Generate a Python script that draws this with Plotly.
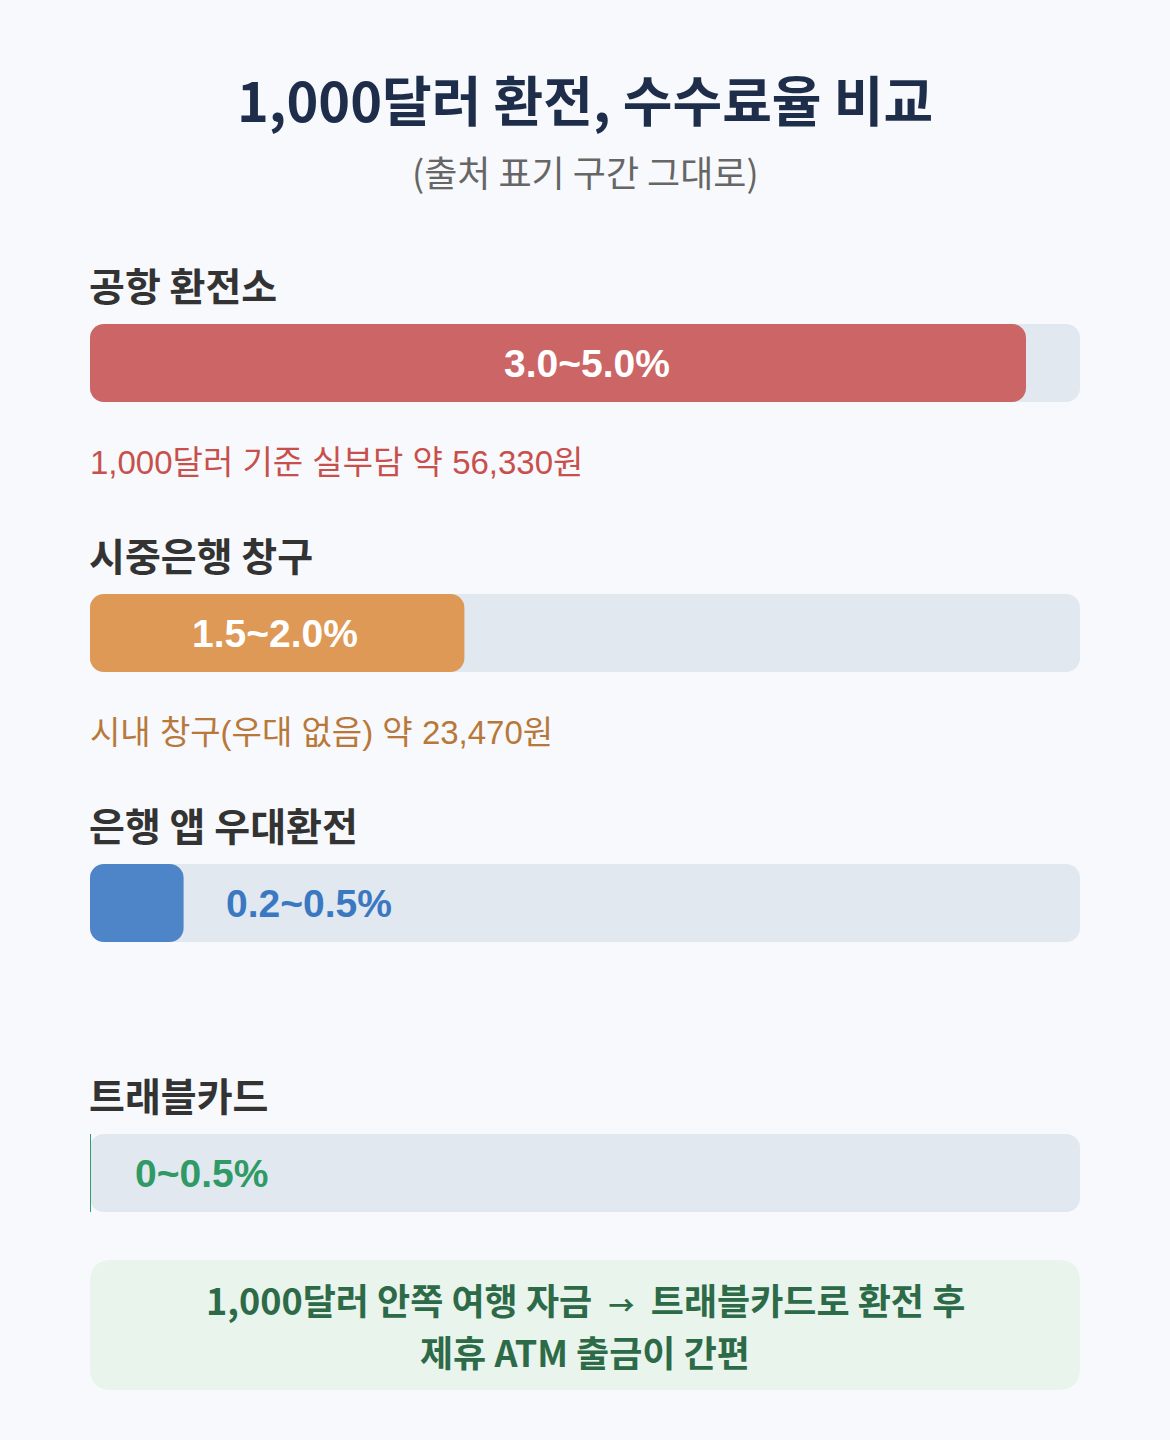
import plotly.graph_objects as go

# ---------------- data ----------------
categories = ["공항 환전소", "시중은행 창구", "은행 앱 우대환전", "트래블카드"]
fee_min = [3.0, 1.5, 0.2, 0.0]
fee_max = [5.0, 2.0, 0.5, 0.5]
range_labels = ["3.0~5.0%", "1.5~2.0%", "0.2~0.5%", "0~0.5%"]
bar_values = [5.0, 2.0, 0.5, 0.0]
notes = ["1,000달러 기준 실부담 약 56,330원", "시내 창구(우대 없음) 약 23,470원", "", ""]
title = "1,000달러 환전, 수수료율 비교"
subtitle = "(출처 표기 구간 그대로)"
footer_lines = ["1,000달러 안쪽 여행 자금 &nbsp;<span style='font-size:26px'>→</span>&nbsp; 트래블카드로 환전 후", "제휴 ATM 출금이 간편"]

# ---------------- style ----------------
W, H = 1170, 1440
L, R = 90, 1080
BG = "#f7f9fc"
TRACK = "#e2e8f0"
bar_colors = ["#cc6666", "#dd9955", "#4d85c8", "#2e9e6a"]
label_colors = ["#ffffff", "#ffffff", "#3a78c2", "#2f9a66"]
note_colors = ["#c8504c", "#b8783a", "#000000", "#000000"]
XMAX = 5.0 * (R - L) / 936.0
KR = "Noto Sans CJK KR"
LAT = "Liberation Sans, Arial, Noto Sans CJK KR"

label_y0 = 284
bar_y0 = 363
note_y0 = 462
step = 270
inside_shift = [29, -2, 0, 0]
outside_shift = [0, 0, 40, 43]


def px(x):
    return (x - L) / (R - L)


fig = go.Figure()
bar_ys = [bar_y0 + step * i for i in range(len(categories))]

# tracks
fig.add_trace(go.Bar(
    x=[XMAX] * len(categories), y=bar_ys, base=0, orientation="h", width=78,
    marker=dict(color=TRACK, cornerradius=14, line=dict(width=0)),
    hoverinfo="skip", showlegend=False,
))
# values
fig.add_trace(go.Bar(
    x=bar_values, y=bar_ys, base=0, orientation="h", width=78,
    marker=dict(color=bar_colors, cornerradius=14, line=dict(width=0)),
    customdata=list(zip(fee_min, fee_max)),
    hovertemplate="%{customdata[0]}~%{customdata[1]}%<extra></extra>",
    showlegend=False,
))

annotations = []
shapes = []
annotations.append(dict(x=0.5, xref="paper", y=98, yref="y", text=f"<b>{title}</b>",
                        showarrow=False, font=dict(family=KR, size=54, color="#1e2d4a"),
                        xanchor="center", yanchor="middle"))
annotations.append(dict(x=0.5, xref="paper", y=171, yref="y", text=subtitle,
                        showarrow=False, font=dict(family=KR, size=36, color="#666666"),
                        xanchor="center", yanchor="middle"))

for i, cat in enumerate(categories):
    annotations.append(dict(x=0, xref="paper", y=label_y0 + step * i, yref="y",
                            text=f"<b>{cat}</b>", showarrow=False, xshift=-3,
                            font=dict(family=KR, size=39, color="#333333"),
                            xanchor="left", yanchor="middle"))
    v = bar_values[i]
    if v / XMAX > 0.2:
        annotations.append(dict(x=v / 2, xref="x", y=bar_ys[i], yref="y",
                                text=f"<b>{range_labels[i]}</b>", showarrow=False,
                                xshift=inside_shift[i],
                                font=dict(family=LAT, size=39, color=label_colors[i]),
                                xanchor="center", yanchor="middle"))
    else:
        annotations.append(dict(x=v, xref="x", y=bar_ys[i], yref="y",
                                text=f"<b>{range_labels[i]}</b>", showarrow=False,
                                xshift=outside_shift[i],
                                font=dict(family=LAT, size=39, color=label_colors[i]),
                                xanchor="left", yanchor="middle"))
    if v == 0:
        shapes.append(dict(type="line", xref="x", yref="y", x0=v, x1=v,
                           y0=bar_ys[i] - 39, y1=bar_ys[i] + 39,
                           line=dict(color=bar_colors[i], width=2)))
    if notes[i]:
        annotations.append(dict(x=0, xref="paper", y=note_y0 + step * i, yref="y",
                                text=notes[i], showarrow=False, xshift=-2,
                                font=dict(family=LAT, size=33, color=note_colors[i]),
                                xanchor="left", yanchor="middle"))

# footer box (rounded rect)
bx0, bx1, by0, by1, r = L, R, 1260, 1390, 22
path = (f"M {px(bx0 + r)},{by0} L {px(bx1 - r)},{by0} Q {px(bx1)},{by0} {px(bx1)},{by0 + r} "
        f"L {px(bx1)},{by1 - r} Q {px(bx1)},{by1} {px(bx1 - r)},{by1} "
        f"L {px(bx0 + r)},{by1} Q {px(bx0)},{by1} {px(bx0)},{by1 - r} "
        f"L {px(bx0)},{by0 + r} Q {px(bx0)},{by0} {px(bx0 + r)},{by0} Z")
shapes.append(dict(type="path", xref="paper", yref="y", path=path,
                   fillcolor="#e8f4ec", line=dict(width=0), layer="below"))
for j, line in enumerate(footer_lines):
    annotations.append(dict(x=0.5, xref="paper", y=1299 + 52 * j, yref="y",
                            text=f"<b>{line}</b>", showarrow=False,
                            font=dict(family=KR, size=36, color="#2d6a48"),
                            xanchor="center", yanchor="middle"))

fig.update_layout(
    width=W, height=H, margin=dict(l=L, r=W - R, t=0, b=0),
    paper_bgcolor=BG, plot_bgcolor=BG, barmode="overlay",
    xaxis=dict(range=[0, XMAX], visible=False, fixedrange=True),
    yaxis=dict(range=[H, 0], visible=False, fixedrange=True),
    annotations=annotations, shapes=shapes,
)

fig.write_html("out.html", config={"displayModeBar": False},
               post_script="document.body.style.margin='0';document.body.style.overflow='hidden';document.body.style.background='" + BG + "';")
